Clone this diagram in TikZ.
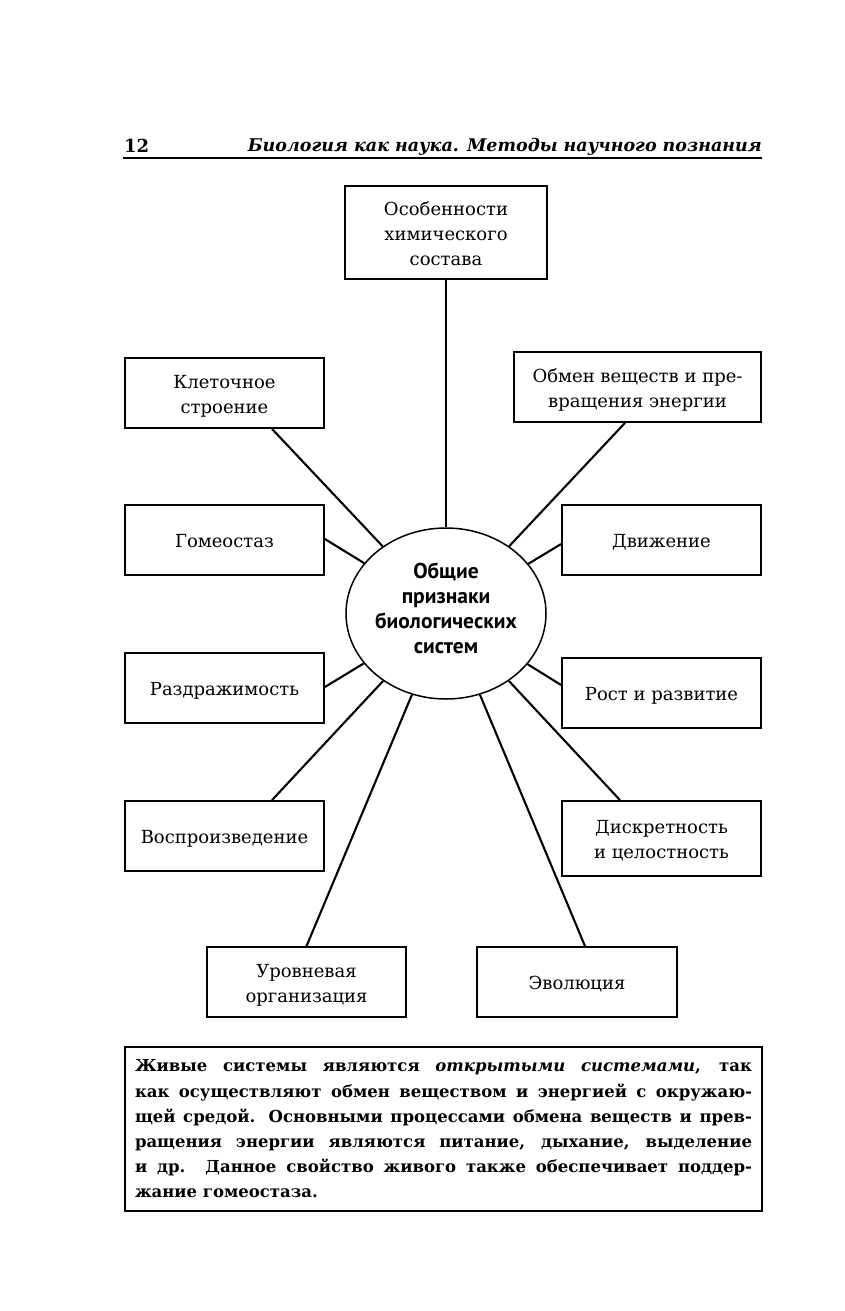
\documentclass[tikz,border=0pt]{standalone}
\usepackage{fontspec}
\setmainfont{DejaVu Serif}
\newfontfamily\sansb{PT Sans}
\usetikzlibrary{shapes.geometric}
\newcommand\mybox[6]{\node[box, minimum width={#4-#2}, minimum height={#5-#3}] (#1) at ({(#2+#4)/2},{(#3+#5)/2}) {\raisebox{-2.5pt}[\height][\depth]{\begin{tabular}{@{}c@{}}#6\end{tabular}}};}
\begin{document}
\begin{tikzpicture}[x=1pt,y=-1pt,
  box/.style={draw, line width=1.8pt, inner sep=0pt, font=\fontsize{18}{25}\selectfont},
  link/.style={line width=2.1pt}]
\useasboundingbox (0,0) rectangle (844,1311);
% header
\node[anchor=base west, inner sep=0, font=\bfseries\fontsize{18}{20}\selectfont] (pnum) at (124,152) {12};
\node[anchor=base east, inner sep=0, font=\bfseries\itshape\fontsize{17.5}{20}\selectfont] (ttl) at (762,151) {\makebox[514pt][s]{Биология как наука. Методы научного познания}};
\coordinate (rl) at (123,158);
\coordinate (rr) at (762,158);
\draw[line width=2.5pt] (rl) -- (rr);
% boxes
\mybox{top}{345}{186}{547}{279}{Особенности\\химического\\состава}
\mybox{klet}{125}{358}{324}{428}{Клеточное\\строение}
\mybox{obmen}{514}{352}{761}{422}{Обмен веществ и пре-\\вращения энергии}
\mybox{gomeo}{125}{505}{324}{575}{Гомеостаз}
\mybox{dvizh}{562}{505}{761}{575}{Движение}
\mybox{razdr}{125}{653}{324}{723}{Раздражимость}
\mybox{rost}{562}{658}{761}{728}{Рост и развитие}
\mybox{vospr}{125}{801}{324}{871}{Воспроизведение}
\mybox{diskr}{562}{801}{761}{876}{Дискретность\\и целостность}
\mybox{urov}{207}{947}{406}{1017}{Уровневая\\организация}
\mybox{evol}{477}{947}{677}{1017}{Эволюция}
% centre
\node[draw, ellipse, line width=1.5pt, minimum width=200, minimum height=171, inner sep=0] (ell) at (446,613.5) {};
\node[align=center, inner sep=0, font=\sansb\bfseries\fontsize{21.5}{25}\selectfont] (lab) at (446,608) {Общие\\признаки\\биологических\\систем};
% links
\draw[link] (top.south) -- (ell);
\draw[link] ([xshift=47.5pt]klet.south) -- (ell);
\draw[link] ([xshift=-12.5pt]obmen.south) -- (ell);
\draw[link] ([yshift=1pt]gomeo.east) -- (ell);
\draw[link] ([yshift=-4pt]dvizh.west) -- (ell);
\draw[link] ([yshift=1pt]razdr.east) -- (ell);
\draw[link] ([yshift=8pt]rost.west) -- (ell);
\draw[link] ([xshift=47.5pt]vospr.north) -- (ell);
\draw[link] ([xshift=-41.5pt]diskr.north) -- (ell);
\draw[link] (urov.north) -- (ell);
\draw[link] ([xshift=8pt]evol.north) -- (ell);
% text box
\node[draw, line width=1.8pt, minimum width=637, minimum height=164, inner xsep=10pt, inner ysep=0pt, align=left, font=\bfseries\fontsize{16.5}{25.2}\selectfont] (tb) at (443.5,1129) {%
\makebox[617pt][s]{Живые системы являются \textit{открытыми системами}, так}\\
\makebox[617pt][s]{как осуществляют обмен веществом и энергией с окружаю-}\\
\makebox[617pt][s]{щей средой. Основными процессами обмена веществ и прев-}\\
\makebox[617pt][s]{ращения энергии являются питание, дыхание, выделение}\\
\makebox[617pt][s]{и др. Данное свойство живого также обеспечивает поддер-}\\
жание гомеостаза.};
\end{tikzpicture}
\end{document}
